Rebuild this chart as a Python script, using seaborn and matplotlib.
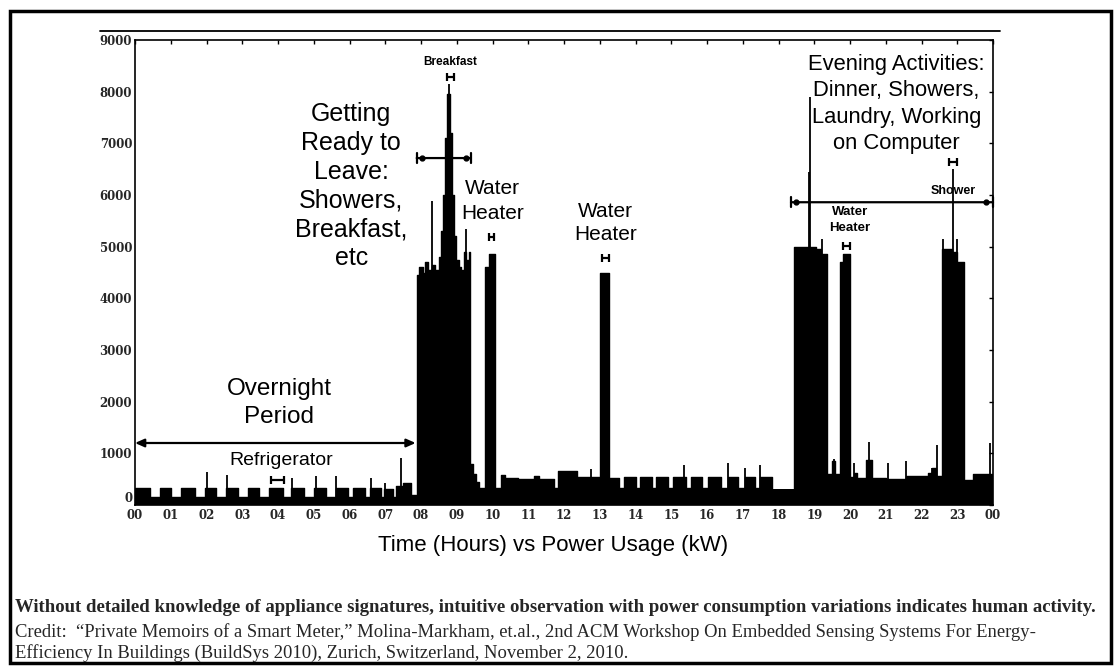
import matplotlib
matplotlib.use("Agg")
import matplotlib.pyplot as plt
from matplotlib.lines import Line2D
from matplotlib.patches import Rectangle
import seaborn as sns
import numpy as np
import pandas as pd

# ---------------- data ----------------
# step-wise household power readings: time of change (hours) and power (W)
step_hours = [0.00, 0.41, 0.69, 1.01, 1.29, 1.67, 1.95, 2.27, 2.55, 2.88,
              3.16, 3.48, 3.76, 4.13, 4.37, 4.74, 5.02, 5.34, 5.62, 5.95,
              6.09, 6.42, 6.56, 6.88, 6.97, 7.21, 7.30, 7.50, 7.72, 7.85,
              7.88, 7.95, 8.05, 8.12, 8.20, 8.30, 8.40, 8.50, 8.55, 8.62,
              8.68, 8.74, 8.80, 8.86, 8.92, 8.98, 9.05, 9.12, 9.20, 9.27,
              9.34, 9.38, 9.45, 9.55, 9.62, 9.78, 9.90, 10.06,
              10.23, 10.35, 10.70, 11.16, 11.30, 11.72, 11.82, 12.37, 13.00, 13.27,
              13.55, 13.68, 14.00, 14.12, 14.45, 14.58, 14.92, 15.05, 15.40, 15.55,
              15.87, 16.02, 16.38, 16.58, 16.86, 17.05, 17.35, 17.48, 17.82, 18.43,
              19.05, 19.18, 19.36, 19.50, 19.58, 19.71, 19.80, 19.99, 20.10, 20.20,
              20.45, 20.62, 21.00, 21.58, 22.18, 22.30, 22.40, 22.57, 22.85, 23.00,
              23.18, 23.45, 24.00]
step_watts = [330, 150, 330, 150, 330, 150, 330, 150, 330, 150,
              330, 150, 330, 150, 330, 150, 330, 150, 330, 150,
              320, 150, 320, 150, 310, 150, 360, 420, 200, 150,
              4450, 4600, 4500, 4700, 4550, 4650, 4550, 4800, 5300, 6000,
              7100, 7950, 7200, 6000, 5200, 4750, 4600, 4550, 4900, 4750,
              4900, 800, 600, 450, 330, 4600, 4850, 330,
              580, 520, 500, 560, 500, 330, 650, 540, 4500, 530,
              330, 540, 330, 540, 330, 540, 330, 550, 330, 540,
              330, 540, 330, 540, 330, 540, 330, 540, 300, 5000,
              4950, 4850, 600, 850, 600, 4700, 4850, 550, 620, 520,
              880, 520, 500, 560, 620, 720, 560, 4950, 4900, 4700,
              480, 600, 600]

# short transient spikes (hours, W)
spike_hours = [2.00, 2.58, 4.40, 5.05, 5.62, 6.60, 7.00, 7.45, 8.30, 8.77,
               9.25, 12.75, 15.35, 16.60, 17.07, 17.49, 18.85, 18.87, 19.22, 19.56,
               20.12, 20.53, 21.05, 21.58, 22.30, 22.42, 22.60, 22.88, 23.00, 23.20,
               23.92]
spike_watts = [640, 580, 520, 560, 560, 520, 420, 910, 5880, 8150,
               5350, 700, 780, 815, 720, 780, 6450, 7900, 5150, 900,
               815, 1220, 815, 850, 720, 1160, 5150, 6500, 5150, 850,
               1200]

hour_ticks = list(range(25))
hour_labels = ["00", "01", "02", "03", "04", "05", "06", "07", "08", "09", "10", "11",
               "12", "13", "14", "15", "16", "17", "18", "19", "20", "21", "22", "23", "00"]
power_ticks = [0, 1000, 2000, 3000, 4000, 5000, 6000, 7000, 8000, 9000]

assert len(step_hours) == len(step_watts)
assert len(spike_hours) == len(spike_watts)

df = pd.DataFrame({"hour": step_hours, "watts": step_watts})

# ---------------- figure ----------------
sns.set_theme(style="white")
plt.rcParams["font.family"] = ["Liberation Sans", "DejaVu Sans"]

W, H = 1118, 671
fig = plt.figure(figsize=(W / 100, H / 100), dpi=100)
fig.patch.set_facecolor("white")

def fx(px):
    return px / W

def fy(py):
    return 1 - py / H

ax = fig.add_axes([fx(135), fy(505), fx(993) - fx(135), fy(40) - fy(505)])
ax.set_facecolor("white")

sns.lineplot(data=df, x="hour", y="watts", drawstyle="steps-post", color="black",
             linewidth=1.0, ax=ax, sort=False, estimator=None)
ax.fill_between(df["hour"], 0, df["watts"], step="post", color="black", linewidth=0)
ax.vlines(spike_hours, 0, spike_watts, color="black", linewidth=1.3)

ax.set_xlim(0, 24)
ax.set_ylim(0, 9000)
ax.set_xticks(hour_ticks)
ax.set_xticklabels(hour_labels)
ax.set_yticks(power_ticks)
ax.set_yticklabels([str(v) for v in power_ticks])
ax.set_xlabel("")
ax.set_ylabel("")
for lab in ax.get_xticklabels() + ax.get_yticklabels():
    lab.set_fontfamily("DejaVu Serif")
    lab.set_fontweight("bold")
    lab.set_fontsize(8.5)
ax.get_yticklabels()[0].set_verticalalignment("bottom")
ax.tick_params(axis="both", direction="in", length=3, width=1, color="black",
               top=True, right=True, pad=3)
ax.tick_params(axis="y", pad=2)
for s in ax.spines.values():
    s.set_visible(True)
    s.set_color("black")
    s.set_linewidth(1.2)

# ---------------- annotations ----------------
big = dict(ha="center", va="center", color="black", fontfamily="Liberation Sans")
ax.text(6.05, 6170, "Getting\nReady to\nLeave:\nShowers,\nBreakfast,\netc",
        fontsize=18, linespacing=1.25, **big)
ax.text(4.03, 1975, "Overnight\nPeriod", fontsize=17.5, linespacing=1.3, **big)
ax.text(4.10, 870, "Refrigerator", fontsize=14, **big)
ax.text(10.0, 5880, "Water\nHeater", fontsize=15, linespacing=1.4, **big)
ax.text(13.17, 5460, "Water\nHeater", fontsize=15, linespacing=1.3, **big)
ax.text(21.3, 7760, "Evening Activities:\nDinner, Showers,\nLaundry, Working\non Computer",
        fontsize=15.8, linespacing=1.33, **big)
ax.text(8.82, 8570, "Breakfast", fontsize=8.5, fontweight="bold", **big)
ax.text(22.88, 6075, "Shower", fontsize=9, fontweight="bold", **big)
ax.text(20.0, 5515, "Water\nHeater", fontsize=9.5, fontweight="bold", linespacing=1.4, **big)

# small range brackets
ax.errorbar([8.82, 9.97, 13.15, 3.98, 19.9, 22.88],
            [8280, 5190, 4780, 484, 5010, 6640],
            xerr=[0.1, 0.08, 0.1, 0.18, 0.1, 0.1],
            fmt="none", ecolor="black", elinewidth=1.6, capsize=3, capthick=1.6)

# period arrows
ax.annotate("", xy=(7.85, 1200), xytext=(0.0, 1200),
            arrowprops=dict(arrowstyle="<|-|>,head_length=0.45,head_width=0.2",
                            color="black", lw=1.6, shrinkA=0, shrinkB=0))
ax.annotate("", xy=(9.39, 6715), xytext=(7.88, 6715),
            arrowprops=dict(arrowstyle="|-|,widthA=0.3,widthB=0.3",
                            color="black", lw=1.6, shrinkA=0, shrinkB=0))
ax.plot([8.02, 9.25], [6715, 6715], "o", color="black", ms=3.5)
ax.annotate("", xy=(24.0, 5860), xytext=(18.35, 5860),
            arrowprops=dict(arrowstyle="|-|,widthA=0.3,widthB=0.3",
                            color="black", lw=1.6, shrinkA=0, shrinkB=0))
ax.plot([18.5, 23.8], [5860, 5860], "o", color="black", ms=3.5)

# x-axis caption
fig.text(fx(553), fy(545), "Time (Hours) vs Power Usage (kW)", ha="center", va="center",
         fontsize=16, fontfamily="Liberation Sans", color="black")

# line above the chart and outer frame
fig.add_artist(Line2D([fx(100), fx(1000)], [fy(31), fy(31)], color="black", lw=1.3))
fig.add_artist(Rectangle((fx(10), fy(663)), fx(1111) - fx(10), fy(11) - fy(663),
                         transform=fig.transFigure, fill=False, edgecolor="black", lw=2.5))

# footnotes
fig.text(fx(15), fy(608),
         "Without detailed knowledge of appliance signatures, intuitive observation with power "
         "consumption variations indicates human activity.",
         ha="left", va="center", fontsize=13.5, fontweight="bold", fontfamily="Liberation Serif")
fig.text(fx(15), fy(632),
         "Credit:  \u201cPrivate Memoirs of a Smart Meter,\u201d Molina-Markham, et.al., 2nd ACM "
         "Workshop On Embedded Sensing Systems For Energy-",
         ha="left", va="center", fontsize=13.4, fontfamily="Liberation Serif")
fig.text(fx(15), fy(653),
         "Efficiency In Buildings (BuildSys 2010), Zurich, Switzerland, November 2, 2010.",
         ha="left", va="center", fontsize=13.4, fontfamily="Liberation Serif")

fig.savefig("out.png", dpi=100, facecolor="white")
